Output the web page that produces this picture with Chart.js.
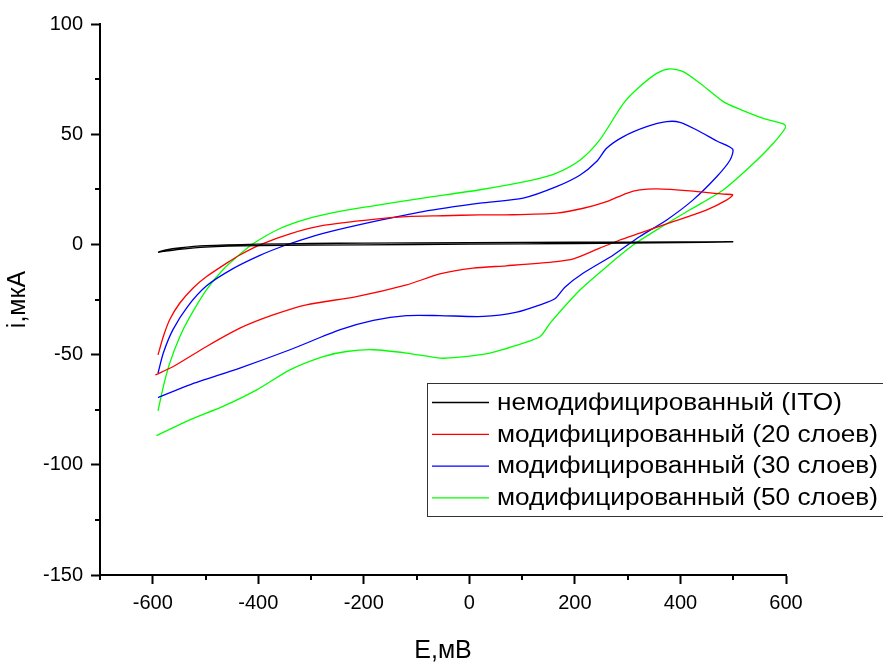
<!DOCTYPE html>
<html>
<head>
<meta charset="utf-8">
<script src="https://cdn.jsdelivr.net/npm/chart.js@4.4.0/dist/chart.umd.min.js"></script>
<style>
html, body { margin: 0; padding: 0; background: #fff; }
</style>
</head>
<body>
<canvas id="chart" width="883" height="662"></canvas>
<script>
// potential E (mV) and current i (uA), forward scan then reverse scan
const itoE = [-590, -575, -550, -500, -400, -300, -200, 0, 200, 400, 500, 400, 200, 0, -200, -400, -500, -550, -580, -590];
const itoI = [-3.5, -2.5, -1.6, -0.6, 0.1, 0.4, 0.6, 0.8, 1.0, 1.1, 1.2, 0.8, 0.4, 0.1, -0.2, -0.6, -1.2, -2.2, -3.2, -3.6];

const l20E = [-590, -580, -568, -549, -524, -498, -460, -435, -397, -340, -277, -182, -119, -50, 20, 70, 165, 216, 260, 298, 323, 355, 418, 481, 499,
              488, 450, 386, 323, 285, 247, 197, 165, 70, 7, -56, -119, -214, -309, -372, -435, -498, -561, -595];
const l20I = [-50.1, -41.8, -34.2, -26.7, -19.9, -14.6, -8.5, -4.8, -0.2, 4.8, 8.6, 11.4, 12.6, 13.0, 13.4, 13.4, 14.2, 16.4, 19.4, 23.2, 24.7, 25.2, 24.3, 22.8, 22.5,
              20.2, 15.7, 10.3, 5.1, 2.0, -1.7, -6.6, -7.8, -9.7, -10.8, -13.4, -18.4, -23.7, -27.4, -32, -38, -46.3, -55.4, -59.2];

const l30E = [-590, -580, -562, -534, -498, -448, -397, -359, -321, -277, -182, -88, 20, 102, 165, 210, 241, 260, 292, 336, 374, 399, 431, 469, 499,
              494, 469, 424, 374, 323, 273, 216, 181, 162, 134, 90, 26, -56, -119, -182, -246, -340, -435, -530, -590];
const l30I = [-58.4, -49.3, -38.8, -28.2, -18.8, -11.0, -5.0, -1.3, 1.8, 5.0, 10.3, 14.9, 18.7, 21, 26.2, 31.5, 37.6, 43.6, 48.9, 53.4, 55.7, 55.4, 51.9, 46.9, 43.2,
              38.3, 30.8, 20.2, 11.1, 3.6, -4.8, -13.0, -19.4, -24.7, -27.4, -30.7, -32.7, -32.3, -32.3, -34.5, -38.8, -47.8, -56.1, -63.7, -69.5];

const l50E = [-590, -580, -568, -549, -530, -498, -467, -435, -410, -359, -309, -246, -182, -88, 20, 121, 165, 210, 247, 292, 323, 355, 380, 405, 437, 481, 513, 557, 595, 600,
              576, 532, 481, 418, 355, 311, 260, 210, 153, 134, 102, 39, -24, -56, -119, -182, -233, -277, -340, -403, -467, -530, -593];
const l50I = [-75.5, -64.5, -54, -42, -33, -20.5, -11.5, -4.5, 0.3, 7.2, 11.5, 15, 17.5, 21, 24.8, 29.3, 32.3, 38.3, 47.4, 64.0, 71.6, 77.6, 79.6, 78.4, 73.1, 64.8, 61.3, 57.2, 54.7, 53.4,
              45.9, 35.3, 24.7, 15.7, 6.6, -0.2, -10.1, -20.6, -35.7, -41.8, -44.8, -49.3, -51.3, -51.6, -49.3, -47.8, -48.6, -50.9, -56.9, -66.0, -73.5, -79.6, -86.8];

const seriesNames = ['немодифицированный (ITO)', 'модифицированный (20 слоев)', 'модифицированный (30 слоев)', 'модифицированный (50 слоев)'];
const seriesColors = ['#000000', '#ff0000', '#0000ff', '#00ff00'];

const xMinor = [-700, -500, -300, -100, 100, 300, 500];
const yMinor = [75, 25, -25, -75, -125];

const FONT = 'Arial, "Liberation Sans", sans-serif';

function pts(xs, ys) {
    return xs.map((x, i) => ({ x: x, y: ys[i] }));
}

const minorTicks = {
    id: 'minorTicks',
    afterDraw(chart) {
        const { ctx, scales: { x, y } } = chart;
        ctx.save();
        ctx.strokeStyle = '#000';
        ctx.lineWidth = 2;
        ctx.beginPath();
        xMinor.forEach(v => {
            const px = Math.round(x.getPixelForValue(v));
            ctx.moveTo(px, x.top);
            ctx.lineTo(px, x.top + 5);
        });
        yMinor.forEach(v => {
            const py = Math.round(y.getPixelForValue(v));
            ctx.moveTo(y.right, py);
            ctx.lineTo(y.right - 5, py);
        });
        ctx.stroke();
        ctx.restore();
    }
};

// legend box inside the plot, text stretched a little like the original
const boxLegend = {
    id: 'boxLegend',
    afterDraw(chart) {
        const ctx = chart.ctx;
        ctx.save();
        ctx.fillStyle = '#fff';
        ctx.fillRect(427.5, 383.5, 470, 133);
        ctx.strokeStyle = '#333';
        ctx.lineWidth = 1;
        ctx.strokeRect(427.5, 383.5, 470, 133);
        ctx.font = '23px ' + FONT;
        ctx.textBaseline = 'middle';
        const sx = 381 / ctx.measureText(seriesNames[1]).width;
        chart.data.datasets.forEach((ds, i) => {
            const yy = 402.5 + i * 31.8;
            ctx.strokeStyle = ds.borderColor;
            ctx.lineWidth = 1.3;
            ctx.beginPath();
            ctx.moveTo(432, yy);
            ctx.lineTo(489, yy);
            ctx.stroke();
            ctx.save();
            ctx.translate(497, yy + 1);
            ctx.scale(sx, 1);
            ctx.fillStyle = '#000';
            ctx.fillText(ds.label, 0, 0);
            ctx.restore();
        });
        ctx.restore();
    }
};

const allE = [itoE, l20E, l30E, l50E];
const allI = [itoI, l20I, l30I, l50I];

new Chart(document.getElementById('chart').getContext('2d'), {
    type: 'scatter',
    data: {
        datasets: seriesNames.map((name, k) => ({
            label: name,
            data: pts(allE[k], allI[k]),
            showLine: true,
            borderColor: seriesColors[k],
            backgroundColor: seriesColors[k],
            borderWidth: 1.3,
            pointRadius: 0,
            tension: 0.25
        }))
    },
    options: {
        responsive: false,
        animation: false,
        layout: { padding: { left: 0, right: 97, top: 24, bottom: 0 } },
        plugins: { legend: { display: false }, tooltip: { enabled: false } },
        scales: {
            x: {
                type: 'linear',
                min: -700,
                max: 600,
                ticks: { stepSize: 200, includeBounds: false, padding: 7, color: '#000', font: { family: FONT, size: 20 } },
                grid: { drawOnChartArea: false, tickLength: 9, tickWidth: 2, tickColor: '#000' },
                border: { color: '#000', width: 2 },
                title: { display: true, text: 'E,мВ', color: '#000', font: { family: FONT, size: 25 }, padding: { top: 0, bottom: -4 } },
                afterFit: s => { s.height = 87; }
            },
            y: {
                type: 'linear',
                min: -150,
                max: 100,
                ticks: { stepSize: 50, padding: 8, color: '#000', font: { family: FONT, size: 20 } },
                grid: { drawOnChartArea: false, tickLength: 9, tickWidth: 2, tickColor: '#000' },
                border: { color: '#000', width: 2 },
                title: { display: true, text: 'i,мкА', color: '#000', font: { family: FONT, size: 25 }, padding: { top: 3, bottom: 0 } },
                afterFit: s => { s.width = 100; }
            }
        }
    },
    plugins: [minorTicks, boxLegend]
});
</script>
</body>
</html>
